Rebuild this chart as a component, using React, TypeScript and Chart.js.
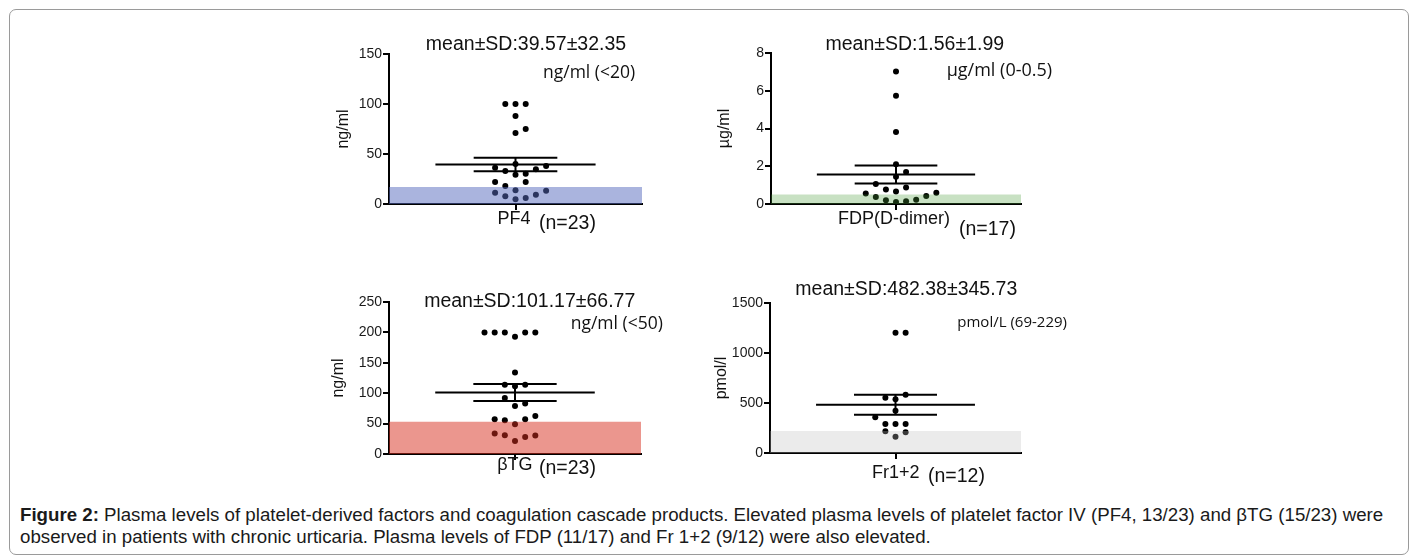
import React, { useEffect, useRef } from 'react';
import { Chart, registerables } from 'chart.js';

Chart.register(...registerables);

// ---------------- data ----------------
const pf4Values = [100, 100, 100, 88, 75, 71, 40, 36.3, 38, 33, 34.7, 29.3, 30.3, 22, 22, 18, 11.3, 13.3, 13.7, 7.7, 9.3, 4.7, 6];
const pf4Jitter = [-1, 0, 1, 0, 1, 0, 0, -2, 3, -1, 2, 0, 1, -2, 1, -1, -2, 3, 0, -1, 2, 0, 1];

const fdpValues = [7.02, 5.73, 3.81, 2.1, 1.7, 1.44, 1.06, 0.87, 0.77, 0.66, 0.55, 0.6, 0.37, 0.43, 0.2, 0.11, 0.14, 0.23];
const fdpJitter = [0, 0, 0, 0, 1, 0, -2, 1, -1, 0, -3, 4, -2, 3, -1, 0, 1, 2];

const btgValues = [200, 200, 200, 193, 200, 200, 134, 114, 114, 111.5, 92, 79, 83, 57, 55.5, 49, 57, 62.6, 33.6, 31, 21.4, 28, 30.3];
const btgJitter = [-3, -2, -1, 0, 1, 2, 0, -1, 1, 0, -1, 0, 1, -2, -1, 0, 1, 2, -2, -1, 0, 1, 2];

const frValues = [1203, 1203, 553, 537, 583, 423, 357, 290, 290, 290, 217, 207, 163];
const frJitter = [0, 1, -1, 0, 1, 0, -2, -1, 0, 1, -1, 1, 0];

const categories = ['PF4', 'FDP(D-dimer)', 'βTG', 'Fr1+2'];
const nLabels = ['(n=23)', '(n=17)', '(n=23)', '(n=12)'];
const meanValues = [39.57, 1.56, 101.17, 482.38];
const sdLabels = ['mean±SD:39.57±32.35', 'mean±SD:1.56±1.99', 'mean±SD:101.17±66.77', 'mean±SD:482.38±345.73'];
const errLow = [32.8, 1.08, 87.3, 383];
const errHigh = [46.3, 2.04, 115.1, 582];
const refUpper = [17, 0.5, 53, 220];
const refLabels = ['ng/ml (<20)', 'µg/ml (0-0.5)', 'ng/ml (<50)', 'pmol/L (69-229)'];
const yTitles = ['ng/ml', 'µg/ml', 'ng/ml', 'pmol/l'];
const yMaxes = [150, 8, 250, 1500];
const yTickSteps = [50, 2, 50, 500];

// ---------------- layout / style ----------------
const X_HALF = 12.4;
const MEAN_HALF = 7.85;
const ERR_HALF = 4.1;
const Y_SCALE_W = 60;
const PAD_TOP = 50;
const PAD_RIGHT = 75;
const X_SCALE_H = 45;

type Layout = {
  area: { l: number; t: number; r: number; b: number };
  bandColor: string;
  yTitlePad: number;
  unitSize: number;
  title: { dx: number; dy: number };
  unit: { dx: number; dy: number };
  cat: { dx: number; dyB: number };
  n: { dx: number; dyB: number };
};

const layouts: Layout[] = [
  {
    area: { l: 389, t: 54, r: 642, b: 204 },
    bandColor: 'rgba(85,105,189,0.5)',
    yTitlePad: 5,
    unitSize: 17.5,
    title: { dx: 137, dy: -9 },
    unit: { dx: 154, dy: 18.7 },
    cat: { dx: 125, dyB: 15.5 },
    n: { dx: 150, dyB: 20 },
  },
  {
    area: { l: 771, t: 53, r: 1021, b: 204 },
    bandColor: 'rgba(72,155,55,0.3)',
    yTitlePad: 4.4,
    unitSize: 18,
    title: { dx: 143.8, dy: -8 },
    unit: { dx: 175.7, dy: 18.3 },
    cat: { dx: 123, dyB: 15.3 },
    n: { dx: 188, dyB: 25.3 },
  },
  {
    area: { l: 389, t: 302, r: 641, b: 454 },
    bandColor: 'rgba(215,45,30,0.5)',
    yTitlePad: 0,
    unitSize: 17.5,
    title: { dx: 140.7, dy: -0.3 },
    unit: { dx: 181.7, dy: 22 },
    cat: { dx: 125.8, dyB: 11 },
    n: { dx: 150, dyB: 14.3 },
  },
  {
    area: { l: 770, t: 303, r: 1021, b: 453 },
    bandColor: 'rgba(190,190,190,0.3)',
    yTitlePad: 2,
    unitSize: 15,
    title: { dx: 136.3, dy: -13 },
    unit: { dx: 187.3, dy: 19.7 },
    cat: { dx: 125.8, dyB: 19.7 },
    n: { dx: 158, dyB: 23.7 },
  },
];

const panelValues = [pf4Values, fdpValues, btgValues, frValues];
const panelJitter = [pf4Jitter, fdpJitter, btgJitter, frJitter];

const SANS = '"Liberation Sans", Arial, Helvetica, sans-serif';

function Panel({ idx }: { idx: number }) {
  const ref = useRef<HTMLCanvasElement | null>(null);
  const L = layouts[idx];
  const w = L.area.r - L.area.l + Y_SCALE_W + PAD_RIGHT;
  const h = PAD_TOP + (L.area.b - L.area.t) + X_SCALE_H;

  useEffect(() => {
    if (!ref.current) return;
    const values = panelValues[idx];
    const jitter = panelJitter[idx];
    const mean = meanValues[idx];

    const textPlugin = {
      id: 'panelText',
      afterDraw(chart: any) {
        const { ctx, chartArea } = chart;
        ctx.save();
        ctx.fillStyle = '#111';
        ctx.textBaseline = 'middle';
        ctx.font = `19.5px ${SANS}`;
        ctx.textAlign = 'center';
        ctx.fillText(sdLabels[idx], chartArea.left + L.title.dx, chartArea.top + L.title.dy);
        ctx.font = `${L.unitSize}px "Open Sans", ${SANS}`;
        ctx.textAlign = 'left';
        ctx.fillText(refLabels[idx], chartArea.left + L.unit.dx, chartArea.top + L.unit.dy);
        ctx.font = `18px ${SANS}`;
        ctx.textAlign = 'center';
        ctx.fillText(categories[idx], chartArea.left + L.cat.dx, chartArea.bottom + L.cat.dyB);
        ctx.font = `19.5px ${SANS}`;
        ctx.textAlign = 'left';
        ctx.fillText(nLabels[idx], chartArea.left + L.n.dx, chartArea.bottom + L.n.dyB);
        ctx.restore();
      },
    };

    const lineDs = (data: { x: number; y: number }[]) => ({
      data,
      borderColor: '#000',
      borderWidth: 2,
      pointRadius: 0,
      fill: false,
      showLine: true,
    });

    const chart = new Chart(ref.current, {
      type: 'line',
      data: {
        datasets: [
          {
            data: [
              { x: -X_HALF, y: refUpper[idx] },
              { x: X_HALF, y: refUpper[idx] },
            ],
            borderColor: 'transparent',
            borderWidth: 0,
            pointRadius: 0,
            backgroundColor: L.bandColor,
            fill: 'origin',
          } as any,
          lineDs([
            { x: -MEAN_HALF, y: mean },
            { x: MEAN_HALF, y: mean },
          ]),
          lineDs([
            { x: -ERR_HALF, y: errHigh[idx] },
            { x: ERR_HALF, y: errHigh[idx] },
          ]),
          lineDs([
            { x: -ERR_HALF, y: errLow[idx] },
            { x: ERR_HALF, y: errLow[idx] },
          ]),
          lineDs([
            { x: 0, y: errLow[idx] },
            { x: 0, y: errHigh[idx] },
          ]),
          {
            data: values.map((v, i) => ({ x: jitter[i], y: v })),
            showLine: false,
            pointRadius: 3,
            pointHoverRadius: 3,
            pointBackgroundColor: '#000',
            pointBorderWidth: 0,
            borderColor: '#000',
            fill: false,
          } as any,
        ],
      },
      options: {
        animation: false,
        responsive: false,
        events: [],
        layout: { padding: { top: PAD_TOP, right: PAD_RIGHT, left: 0, bottom: 0 } },
        plugins: {
          legend: { display: false },
          tooltip: { enabled: false },
        },
        scales: {
          x: {
            type: 'linear',
            min: -X_HALF,
            max: X_HALF,
            afterBuildTicks: (s: any) => {
              s.ticks = [{ value: 0 }];
            },
            afterFit: (s: any) => {
              s.height = X_SCALE_H;
            },
            ticks: { callback: () => '', font: { size: 12 } },
            grid: { drawOnChartArea: false, drawTicks: true, tickLength: 6, color: '#000', lineWidth: 2 },
            border: { display: true, color: '#000', width: 2 },
          },
          y: {
            type: 'linear',
            min: 0,
            max: yMaxes[idx],
            afterFit: (s: any) => {
              s.width = Y_SCALE_W;
            },
            ticks: {
              stepSize: yTickSteps[idx],
              padding: 1,
              color: '#1a1a1a',
              font: { family: SANS, size: 14 },
              callback: (v: any) => String(v),
            },
            grid: { drawOnChartArea: false, drawTicks: true, tickLength: 6, color: '#000', lineWidth: 2 },
            border: { display: true, color: '#000', width: 2 },
            title: {
              display: true,
              text: yTitles[idx],
              color: '#111',
              font: { family: SANS, size: 16 },
              padding: { top: L.yTitlePad, bottom: 0 },
            },
          },
        },
      } as any,
      plugins: [textPlugin],
    });
    return () => chart.destroy();
  }, [idx]);

  return (
    <canvas
      ref={ref}
      width={w}
      height={h}
      style={{
        position: 'absolute',
        left: L.area.l - Y_SCALE_W,
        top: L.area.t - PAD_TOP,
        width: w,
        height: h,
      }}
    />
  );
}

export default function App() {
  return (
    <div style={{ position: 'absolute', left: 0, top: 0, width: 1411, height: 557, background: '#fff', overflow: 'hidden' }}>
      <div
        style={{
          position: 'absolute',
          left: 9,
          top: 9,
          width: 1400,
          height: 546,
          boxSizing: 'border-box',
          border: '1px solid #9a9a9a',
          borderRadius: 7,
        }}
      />
      {[0, 1, 2, 3].map((i) => (
        <Panel key={i} idx={i} />
      ))}
      <div
        style={{
          position: 'absolute',
          left: 20,
          top: 504,
          fontFamily: SANS,
          fontSize: 18.7,
          lineHeight: '22px',
          color: '#1a1a1a',
          whiteSpace: 'nowrap',
        }}
      >
        <b>Figure 2:</b> Plasma levels of platelet-derived factors and coagulation cascade products. Elevated plasma levels of
        platelet factor IV (PF4, 13/23) and βTG (15/23) were
        <br />
        observed in patients with chronic urticaria. Plasma levels of FDP (11/17) and Fr 1+2 (9/12) were also elevated.
      </div>
    </div>
  );
}
